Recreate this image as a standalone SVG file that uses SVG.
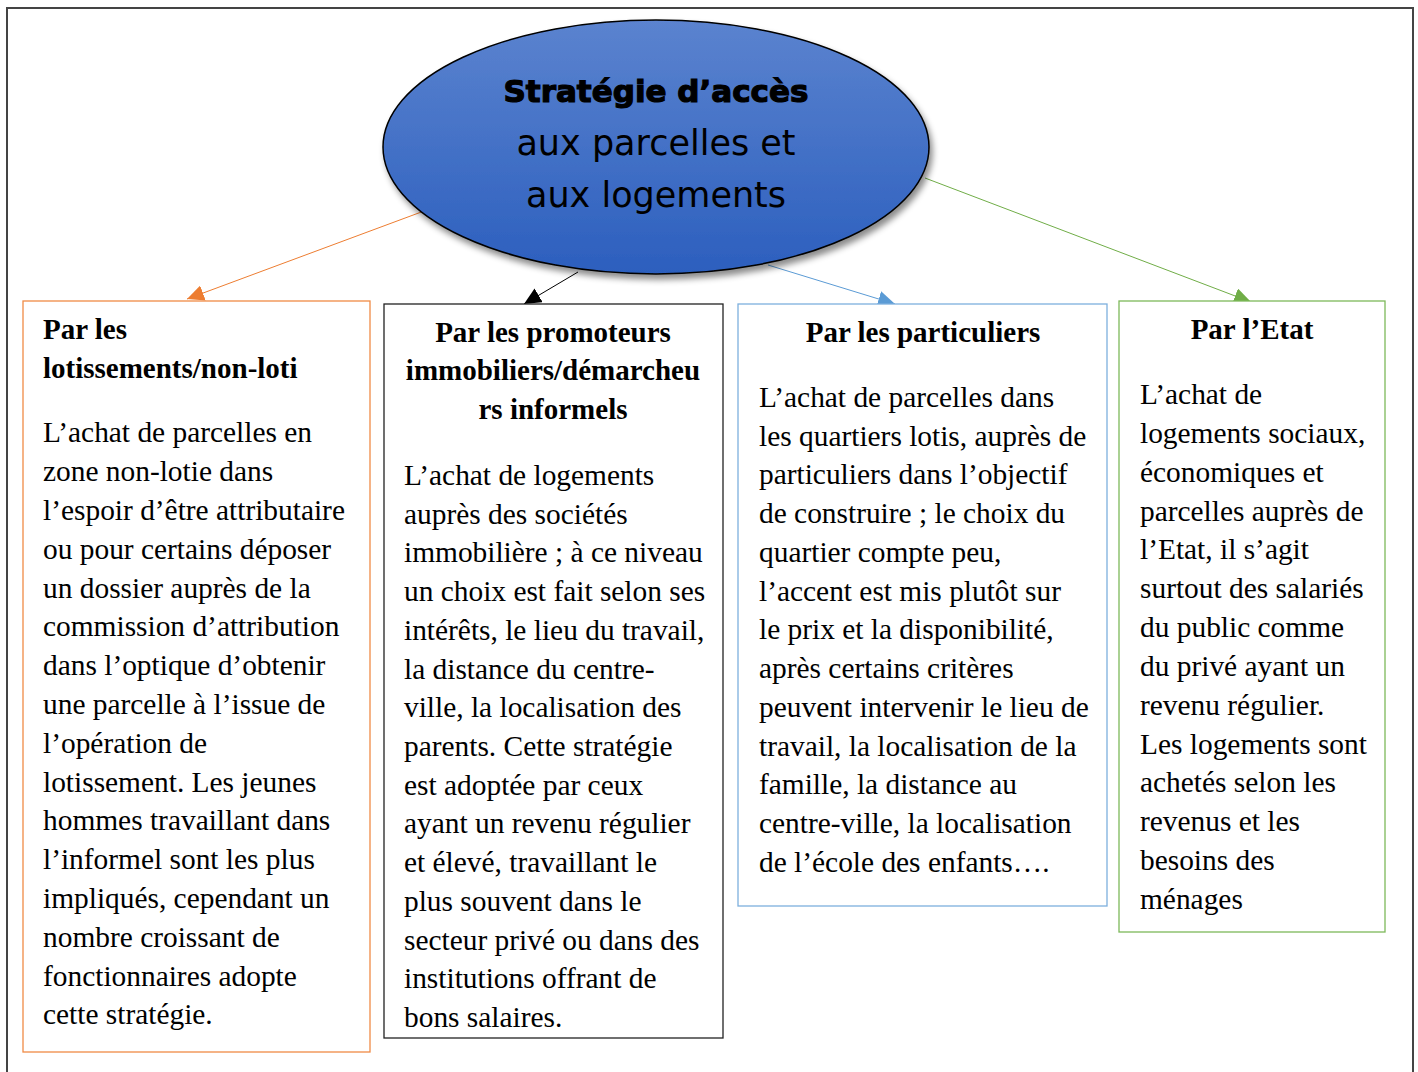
<svg xmlns="http://www.w3.org/2000/svg" width="1418" height="1072" viewBox="0 0 1418 1072">
<defs>
<linearGradient id="g" x1="0" y1="0" x2="0" y2="1">
<stop offset="0" stop-color="#5b83cf"/>
<stop offset="1" stop-color="#2c5fbe"/>
</linearGradient>
<filter id="sh" x="-10%" y="-10%" width="125%" height="130%">
<feDropShadow dx="3" dy="5" stdDeviation="3" flood-color="#000" flood-opacity="0.45"/>
</filter>
<marker id="mo" markerUnits="userSpaceOnUse" markerWidth="18" markerHeight="16" refX="17" refY="8" orient="auto"><path d="M0,0 L17,8 L0,16 Z" fill="#ED7D31"/></marker>
<marker id="mk" markerUnits="userSpaceOnUse" markerWidth="18" markerHeight="16" refX="17" refY="8" orient="auto"><path d="M0,0 L17,8 L0,16 Z" fill="#000"/></marker>
<marker id="mb" markerUnits="userSpaceOnUse" markerWidth="18" markerHeight="16" refX="17" refY="8" orient="auto"><path d="M0,0 L17,8 L0,16 Z" fill="#5B9BD5"/></marker>
<marker id="mg" markerUnits="userSpaceOnUse" markerWidth="18" markerHeight="16" refX="17" refY="8" orient="auto"><path d="M0,0 L17,8 L0,16 Z" fill="#70AD47"/></marker>
</defs>
<style>
.h{font-family:"Liberation Serif","Times New Roman",serif;font-weight:bold;font-size:29px;fill:#000}
.b{font-family:"Liberation Serif","Times New Roman",serif;font-size:29.4px;fill:#000}
.box{fill:#fff;stroke-width:1.3}
.t1{font-family:"DejaVu Sans",sans-serif;font-weight:bold;font-size:31px;fill:#000;stroke:#000;stroke-width:1.2}
.t2{font-family:"DejaVu Sans",sans-serif;font-size:35px;fill:#000}
</style>
<rect x="0" y="0" width="1418" height="1072" fill="#fff"/>
<rect x="7" y="8" width="1406" height="1090" fill="none" stroke="#444" stroke-width="2"/>

<g id="connectors" fill="none" stroke-width="1">
<line x1="424" y1="211" x2="187" y2="299" stroke="#ED7D31" marker-end="url(#mo)"/>
<line x1="578" y1="272" x2="524" y2="304" stroke="#000" marker-end="url(#mk)"/>
<line x1="768" y1="265" x2="895" y2="304" stroke="#5B9BD5" marker-end="url(#mb)"/>
<line x1="925" y1="178" x2="1251" y2="302" stroke="#70AD47" marker-end="url(#mg)"/>
</g>

<g id="center">
<ellipse cx="656" cy="147" rx="273" ry="127" fill="url(#g)" stroke="#000" stroke-width="1.5" filter="url(#sh)"/>
<text class="t1" x="656" y="102" text-anchor="middle">Stratégie d’accès</text>
<text class="t2" x="656" y="155" text-anchor="middle">aux parcelles et</text>
<text class="t2" x="656" y="207" text-anchor="middle">aux logements</text>
</g>

<g id="box1">
<rect class="box" x="23" y="301" width="347" height="751" stroke="#F08B45"/>
<text class="h" x="43" y="339">Par les</text>
<text class="h" x="43" y="378">lotissements/non-loti</text>
<text class="b" x="43" y="442">L’achat de parcelles en</text>
<text class="b" x="43" y="481">zone non-lotie dans</text>
<text class="b" x="43" y="520">l’espoir d’être attributaire</text>
<text class="b" x="43" y="559">ou pour certains déposer</text>
<text class="b" x="43" y="598">un dossier auprès de la</text>
<text class="b" x="43" y="636">commission d’attribution</text>
<text class="b" x="43" y="675">dans l’optique d’obtenir</text>
<text class="b" x="43" y="714">une parcelle à l’issue de</text>
<text class="b" x="43" y="753">l’opération de</text>
<text class="b" x="43" y="792">lotissement. Les jeunes</text>
<text class="b" x="43" y="830">hommes travaillant dans</text>
<text class="b" x="43" y="869">l’informel sont les plus</text>
<text class="b" x="43" y="908">impliqués, cependant un</text>
<text class="b" x="43" y="947">nombre croissant de</text>
<text class="b" x="43" y="986">fonctionnaires adopte</text>
<text class="b" x="43" y="1024">cette stratégie.</text>
</g>

<g id="box2">
<rect class="box" x="384" y="304" width="339" height="734" stroke="#222"/>
<text class="h" x="553" y="342" text-anchor="middle">Par les promoteurs</text>
<text class="h" x="553" y="380" text-anchor="middle">immobiliers/démarcheu</text>
<text class="h" x="553" y="419" text-anchor="middle">rs informels</text>
<text class="b" x="404" y="485">L’achat de logements</text>
<text class="b" x="404" y="524">auprès des sociétés</text>
<text class="b" x="404" y="562">immobilière ; à ce niveau</text>
<text class="b" x="404" y="601">un choix est fait selon ses</text>
<text class="b" x="404" y="640">intérêts, le lieu du travail,</text>
<text class="b" x="404" y="679">la distance du centre-</text>
<text class="b" x="404" y="717">ville, la localisation des</text>
<text class="b" x="404" y="756">parents. Cette stratégie</text>
<text class="b" x="404" y="795">est adoptée par ceux</text>
<text class="b" x="404" y="833">ayant un revenu régulier</text>
<text class="b" x="404" y="872">et élevé, travaillant le</text>
<text class="b" x="404" y="911">plus souvent dans le</text>
<text class="b" x="404" y="950">secteur privé ou dans des</text>
<text class="b" x="404" y="988">institutions offrant de</text>
<text class="b" x="404" y="1027">bons salaires.</text>
</g>

<g id="box3">
<rect class="box" x="738" y="304" width="369" height="602" stroke="#7DB0DE"/>
<text class="h" x="923" y="342" text-anchor="middle">Par les particuliers</text>
<text class="b" x="759" y="407">L’achat de parcelles dans</text>
<text class="b" x="759" y="446">les quartiers lotis, auprès de</text>
<text class="b" x="759" y="484">particuliers dans l’objectif</text>
<text class="b" x="759" y="523">de construire ; le choix du</text>
<text class="b" x="759" y="562">quartier compte peu,</text>
<text class="b" x="759" y="601">l’accent est mis plutôt sur</text>
<text class="b" x="759" y="639">le prix et la disponibilité,</text>
<text class="b" x="759" y="678">après certains critères</text>
<text class="b" x="759" y="717">peuvent intervenir le lieu de</text>
<text class="b" x="759" y="756">travail, la localisation de la</text>
<text class="b" x="759" y="794">famille, la distance au</text>
<text class="b" x="759" y="833">centre-ville, la localisation</text>
<text class="b" x="759" y="872">de l’école des enfants….</text>
</g>

<g id="box4">
<rect class="box" x="1119" y="301" width="266" height="631" stroke="#7DB95A"/>
<text class="h" x="1252" y="339" text-anchor="middle">Par l’Etat</text>
<text class="b" x="1140" y="404">L’achat de</text>
<text class="b" x="1140" y="443">logements sociaux,</text>
<text class="b" x="1140" y="482">économiques et</text>
<text class="b" x="1140" y="521">parcelles auprès de</text>
<text class="b" x="1140" y="559">l’Etat, il s’agit</text>
<text class="b" x="1140" y="598">surtout des salariés</text>
<text class="b" x="1140" y="637">du public comme</text>
<text class="b" x="1140" y="676">du privé ayant un</text>
<text class="b" x="1140" y="715">revenu régulier.</text>
<text class="b" x="1140" y="754">Les logements sont</text>
<text class="b" x="1140" y="792">achetés selon les</text>
<text class="b" x="1140" y="831">revenus et les</text>
<text class="b" x="1140" y="870">besoins des</text>
<text class="b" x="1140" y="909">ménages</text>
</g>
</svg>
